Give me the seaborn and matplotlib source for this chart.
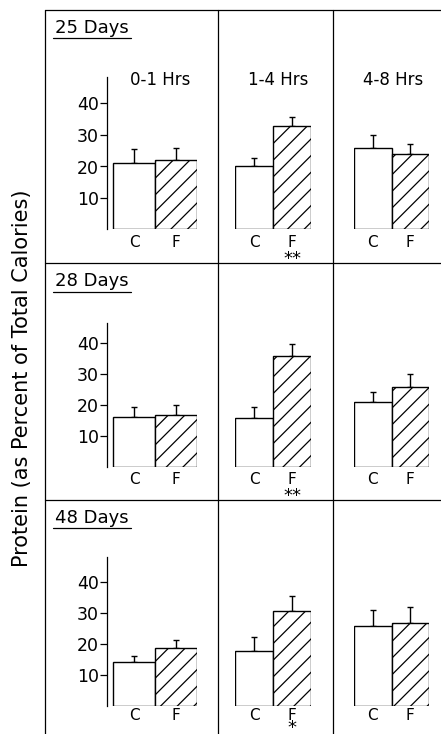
import matplotlib
matplotlib.use("Agg")
import matplotlib.pyplot as plt
from matplotlib.lines import Line2D
import seaborn as sns
import pandas as pd

# ---------------- data ----------------
ages = ["25 Days", "28 Days", "48 Days"]
periods = ["0-1 Hrs", "1-4 Hrs", "4-8 Hrs"]
groups = ["C", "F"]
c_mean = [[21.0, 20.3, 25.8], [16.0, 15.8, 21.0], [14.0, 17.7, 25.8]]
c_upper = [[25.6, 22.7, 30.1], [19.4, 19.4, 24.2], [16.0, 22.2, 31.0]]
f_mean = [[22.0, 33.0, 24.0], [16.7, 35.7, 25.7], [18.8, 30.8, 26.8]]
f_upper = [[25.9, 35.6, 27.1], [20.1, 39.6, 30.0], [21.4, 35.7, 32.1]]
signif = [["", "**", ""], ["", "**", ""], ["", "*", ""]]
y_ticks = [10, 20, 30, 40]
y_label = "Protein (as Percent of Total Calories)"

# ---------------- layout (pixels / points) ----------------
W, H = 441, 734
row_zero = [229.5, 467.0, 705.5]
row_top = [77.0, 323.0, 557.0]
row_unit = [3.15, 3.10, 3.08]
row_xpad = [3.8, 3.5, 2.0]
col_left = [113.0, 235.0, 354.0]
col_right = [197.0, 311.0, 429.0]
spine_gap = 6.0
star_overlap_pt = [0.0, 0.0, 3.0]
star_fs = 13

sns.set_theme(style="white")
plt.rcParams["font.family"] = ["DejaVu Sans"]
plt.rcParams["hatch.linewidth"] = 0.9
for k in ["text.color", "axes.labelcolor", "xtick.color", "ytick.color"]:
    plt.rcParams[k] = "black"

fig = plt.figure(figsize=(W / 100, H / 100), dpi=100)
fig.patch.set_facecolor("white")

def fx(p):
    return p / W

def fy(p):
    return 1 - p / H

star_jobs = []
for r in range(3):
    ytop = (row_zero[r] - row_top[r]) / row_unit[r]
    for c in range(3):
        left = col_left[c] - (spine_gap if c == 0 else 0)
        ax = fig.add_axes([fx(left), fy(row_zero[r]),
                           (col_right[c] - left) / W,
                           (row_zero[r] - row_top[r]) / H])
        ax.set_facecolor("none")
        df = pd.DataFrame({"group": groups,
                           "value": [c_mean[r][c], f_mean[r][c]]})
        sns.barplot(data=df, x="group", y="value", hue="group",
                    palette={"C": "white", "F": "white"}, edgecolor="black",
                    linewidth=1.0, width=1.0, errorbar=None, legend=False,
                    ax=ax, zorder=3)
        ax.patches[1].set_hatch("//")
        ups = [c_upper[r][c] - c_mean[r][c], f_upper[r][c] - f_mean[r][c]]
        ax.errorbar([0, 1], [c_mean[r][c], f_mean[r][c]],
                    yerr=[[0, 0], ups], fmt="none", ecolor="black",
                    elinewidth=1.0, capsize=2, capthick=1.0, zorder=2)
        unit_px = (col_right[c] - col_left[c]) / 2
        xl = -0.5 - (spine_gap / unit_px if c == 0 else 0)
        ax.set_xlim(xl, 1.5)
        ax.set_ylim(0, ytop)
        ax.set_xlabel("")
        ax.set_ylabel("")
        for s in ["top", "right", "bottom"]:
            ax.spines[s].set_visible(False)
        ax.tick_params(axis="x", length=0, pad=row_xpad[r], labelsize=11,
                       colors="black")
        if c == 0:
            ax.spines["left"].set_visible(True)
            ax.spines["left"].set_color("black")
            ax.spines["left"].set_linewidth(0.9)
            ax.set_yticks(y_ticks)
            ax.set_yticklabels([str(t) for t in y_ticks])
            ax.tick_params(axis="y", left=True, direction="out", length=5,
                           width=0.9, pad=1, labelsize=12.5, colors="black")
        else:
            ax.spines["left"].set_visible(False)
            ax.set_yticks([])
        if signif[r][c]:
            star_jobs.append((ax, r, c))

fig.canvas.draw()
for ax, r, c in star_jobs:
    f_label = ax.get_xticklabels()[1]
    ax.annotate(signif[r][c], xy=(0.5, 0), xycoords=f_label,
                xytext=(0, star_overlap_pt[r]), textcoords="offset points",
                ha="center", va="top", fontsize=star_fs)

# column headers (first row only)
head_x = [160, 278, 393]
for c in range(3):
    fig.text(fx(head_x[c]), fy(85), periods[c], ha="center",
             va="baseline", fontsize=12)

# age labels with underline
age_base = [33, 286, 523]
age_line = [38, 292, 528]
texts = []
for r in range(3):
    t = fig.text(fx(55), fy(age_base[r]), ages[r], ha="left",
                 va="baseline", fontsize=13)
    texts.append(t)
fig.canvas.draw()
rend = fig.canvas.get_renderer()
for r in range(3):
    bb = texts[r].get_window_extent(renderer=rend)
    fig.add_artist(Line2D([fx(bb.x0 - 2), fx(bb.x1 + 2)],
                          [fy(age_line[r])] * 2, color="black", lw=0.9))

# y label
fig.text(fx(22), fy(378), y_label, rotation=90, ha="center", va="center",
         fontsize=15)

# frame lines
lw = 0.9
fig.add_artist(Line2D([fx(45), 1], [fy(10)] * 2, color="black", lw=lw))
for xv in [45, 218, 333]:
    fig.add_artist(Line2D([fx(xv)] * 2, [fy(10), 0], color="black", lw=lw))
for yv in [263, 500]:
    fig.add_artist(Line2D([fx(45), 1], [fy(yv)] * 2, color="black", lw=lw))

fig.savefig("out.png", dpi=100, facecolor="white")
